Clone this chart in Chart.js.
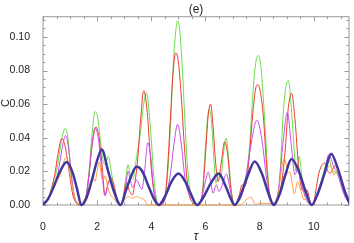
<!DOCTYPE html>
<html>
<head>
<meta charset="utf-8">
<script src="https://cdn.jsdelivr.net/npm/chart.js@4"></script>
<style>
  html, body { margin: 0; padding: 0; background: #fff; }
  #box { width: 354px; height: 243px; }
</style>
</head>
<body>
<div id="box"><canvas id="myChart" width="354" height="243"></canvas></div>
<script>
// tau / C values, one group per arch
const greenT = [0, 0.2, 0.4, 0.5, 0.6, 0.7, 0.82, 0.92, 1.0, 1.1, 1.2, 1.35, 1.5, 1.6, 1.7, 1.8, 1.92, 2.02, 2.12, 2.22, 2.3, 2.41, 2.5, 2.6, 2.7, 2.85,
  2.95, 3.05, 3.14, 3.22, 3.3, 3.47, 3.6, 3.7, 3.82, 3.92, 4.02, 4.1, 4.2, 4.3,
  4.5, 4.6, 4.7, 4.8, 4.9, 4.97, 5.05, 5.15, 5.25, 5.35, 5.45, 5.6, 5.7,
  5.8, 5.9, 6.0, 6.13, 6.22, 6.3, 6.39, 6.49, 6.56, 6.66, 6.76, 6.86, 6.96, 7.08,
  7.15, 7.3, 7.45, 7.55, 7.65, 7.75, 7.85, 7.96, 8.05, 8.15, 8.27, 8.35, 8.45, 8.55,
  8.65, 8.75, 8.87, 8.97, 9.06, 9.18, 9.27, 9.34, 9.4, 9.46, 9.55, 9.68, 9.8, 9.92,
  10.1, 10.25, 10.4, 10.55, 10.65, 10.75, 10.85, 10.95, 11.1, 11.3];
const greenC = [0, 0.004, 0.015, 0.02, 0.03, 0.04, 0.0456, 0.04, 0.025, 0.01, 0.002, 0, 0.001, 0.006, 0.02, 0.04, 0.0555, 0.052, 0.038, 0.026, 0.024, 0.029, 0.022, 0.012, 0.005, 0,
  0.004, 0.015, 0.024, 0.018, 0.015, 0.03, 0.043, 0.058, 0.0668, 0.055, 0.034, 0.015, 0.003, 0,
  0.004, 0.018, 0.045, 0.08, 0.103, 0.1097, 0.104, 0.08, 0.047, 0.02, 0.007, 0.001, 0,
  0.001, 0.01, 0.035, 0.057, 0.05, 0.03, 0.013, 0.019, 0.016, 0.03, 0.0398, 0.027, 0.008, 0,
  0.001, 0.004, 0.015, 0.022, 0.04, 0.066, 0.084, 0.0889, 0.082, 0.06, 0.027, 0.009, 0.002, 0,
  0.003, 0.018, 0.054, 0.07, 0.074, 0.056, 0.034, 0.02, 0.022, 0.029, 0.018, 0.0054, 0.001, 0,
  0.005, 0.013, 0.022, 0.028, 0.022, 0.02, 0.019, 0.016, 0.008, 0.001];

const redT = [0, 0.2, 0.35, 0.45, 0.55, 0.7, 0.8, 0.9, 1.0, 1.1, 1.25, 1.4,
  1.5, 1.6, 1.7, 1.8, 1.96, 2.07, 2.17, 2.29, 2.41, 2.52, 2.62, 2.72, 2.85,
  2.95, 3.07, 3.2, 3.3, 3.4, 3.5, 3.6, 3.72, 3.85, 3.95, 4.05, 4.15, 4.3,
  4.5, 4.6, 4.7, 4.8, 4.9, 5.0, 5.1, 5.2, 5.3, 5.4, 5.55, 5.7,
  5.8, 5.9, 6.0, 6.1, 6.19, 6.28, 6.37, 6.47, 6.58, 6.71, 6.82, 6.92, 7.02, 7.1,
  7.15, 7.25, 7.35, 7.45, 7.55, 7.65, 7.75, 7.85, 7.94, 8.05, 8.15, 8.25, 8.35, 8.45, 8.55,
  8.65, 8.8, 8.93, 9.06, 9.18, 9.31, 9.43, 9.55, 9.65, 9.75, 9.85, 9.95,
  10.05, 10.15, 10.25, 10.4, 10.52, 10.62, 10.72, 10.85, 10.95, 11.05, 11.15, 11.3];
const redC = [0, 0.004, 0.012, 0.0195, 0.03, 0.0396, 0.036, 0.027, 0.016, 0.006, 0.001, 0,
  0.001, 0.006, 0.018, 0.034, 0.0465, 0.04, 0.026, 0.006, 0.0134, 0.016, 0.012, 0.005, 0,
  0.002, 0.013, 0.008, 0.006, 0.014, 0.028, 0.05, 0.068, 0.055, 0.032, 0.013, 0.004, 0,
  0.004, 0.022, 0.05, 0.078, 0.0905, 0.085, 0.066, 0.04, 0.018, 0.006, 0.001, 0,
  0.001, 0.008, 0.03, 0.053, 0.06, 0.047, 0.026, 0.014, 0.025, 0.0376, 0.03, 0.012, 0.002, 0,
  0.001, 0.006, 0.012, 0.011, 0.018, 0.035, 0.055, 0.069, 0.0716, 0.065, 0.05, 0.025, 0.008, 0.002, 0,
  0.004, 0.012, 0.03, 0.058, 0.0664, 0.05, 0.024, 0.0097, 0.008, 0.009, 0.003, 0,
  0.006, 0.016, 0.022, 0.025, 0.02, 0.019, 0.022, 0.0235, 0.019, 0.012, 0.006, 0.001];

const magT = [0, 0.2, 0.35, 0.5, 0.62, 0.72, 0.84, 0.95, 1.05, 1.15, 1.3, 1.42,
  1.5, 1.6, 1.7, 1.8, 1.92, 2.05, 2.17, 2.29, 2.4, 2.5, 2.62, 2.72, 2.85,
  2.95, 3.05, 3.14, 3.22, 3.32, 3.45, 3.55, 3.65, 3.75, 3.87, 3.97, 4.07, 4.17, 4.3,
  4.5, 4.7, 4.85, 4.97, 5.1, 5.25, 5.4, 5.55, 5.7,
  5.85, 6.0, 6.1, 6.2, 6.28, 6.4, 6.5, 6.6, 6.78, 6.9, 7.05,
  7.2, 7.35, 7.47, 7.66, 7.9, 8.09, 8.27, 8.43, 8.55,
  8.7, 8.87, 9.02, 9.18, 9.3, 9.43, 9.55, 9.68, 9.9,
  10.0, 10.2, 10.35, 10.45, 10.55, 10.65, 10.75, 10.85, 11.0, 11.15, 11.3];
const magC = [0, 0.004, 0.01, 0.015, 0.025, 0.035, 0.0414, 0.033, 0.018, 0.006, 0.001, 0,
  0.001, 0.006, 0.018, 0.034, 0.046, 0.039, 0.02, 0.0054, 0.012, 0.014, 0.008, 0.004, 0,
  0.002, 0.01, 0.02, 0.015, 0.0104, 0.015, 0.012, 0.0094, 0.02, 0.037, 0.03, 0.012, 0.003, 0,
  0.003, 0.018, 0.038, 0.048, 0.037, 0.015, 0.006, 0.003, 0,
  0.004, 0.014, 0.0195, 0.013, 0.007, 0.012, 0.008, 0.011, 0.0185, 0.01, 0,
  0.002, 0.006, 0.0143, 0.034, 0.0505, 0.038, 0.0143, 0.003, 0,
  0.01, 0.038, 0.055, 0.034, 0.018, 0.022, 0.0128, 0.005, 0,
  0.001, 0.008, 0.016, 0.024, 0.03, 0.027, 0.022, 0.02, 0.012, 0.005, 0.001];

const orangeT = [0, 0.2, 0.35, 0.45, 0.55, 0.65, 0.75, 0.86, 0.95, 1.0,
  1.1, 1.2, 1.3, 1.45, 1.55, 1.65, 1.75, 1.85, 1.92, 2.0,
  2.08, 2.15, 2.22, 2.3, 2.4, 2.5, 2.6, 2.75, 2.85, 3.0,
  3.15, 3.3, 3.45, 3.6, 3.75, 3.85, 6.45, 6.52, 6.58, 7.3,
  7.4, 7.5, 7.63, 7.72, 7.8, 7.9, 8.1, 8.3, 8.5, 8.6,
  8.7, 8.8, 8.9, 8.97, 9.03, 9.12, 9.2, 9.28, 9.4, 9.52,
  9.64, 9.77, 9.85, 9.95, 10.07, 10.26, 10.38, 10.5, 10.62, 10.75,
  10.87, 11.05, 11.3];
const orangeC = [0, 0.004, 0.011, 0.014, 0.015, 0.019, 0.025, 0.0284, 0.024, 0.018,
  0.01, 0.003, 0.001, 0.002, 0.004, 0.008, 0.012, 0.016, 0.014, 0.02,
  0.0255, 0.018, 0.0145, 0.0175, 0.01, 0.006, 0.004, 0.001, 0, 0.003,
  0.005, 0.004, 0.005, 0.004, 0.003, 0, 0, 0.001, 0, 0,
  0.001, 0.003, 0.0046, 0.004, 0.001, 0.0005, 0.001, 0.001, 0.001, 0.003,
  0.008, 0.02, 0.028, 0.025, 0.0187, 0.0197, 0.013, 0.0068, 0.0137, 0.0088,
  0.003, 0.0058, 0.001, 0, 0.003, 0.0128, 0.0187, 0.0217, 0.0237, 0.018,
  0.021, 0.0128, 0.003];

const blueT = [0, 0.2, 0.4, 0.6, 0.88, 1.1, 1.25, 1.42,
  1.6, 1.8, 2.0, 2.17, 2.4, 2.6, 2.87,
  3.05, 3.25, 3.45, 3.65, 3.9, 4.1, 4.27,
  4.5, 4.75, 5.0, 5.25, 5.45, 5.69,
  5.9, 6.2, 6.49, 6.75, 6.9, 7.08,
  7.3, 7.55, 7.82, 8.1, 8.3, 8.52,
  8.75, 8.95, 9.18, 9.45, 9.7, 9.92,
  10.15, 10.4, 10.64, 10.9, 11.15, 11.35];
const blueC = [0, 0.004, 0.011, 0.019, 0.0256, 0.019, 0.01, 0,
  0.004, 0.0145, 0.0265, 0.033, 0.0205, 0.009, 0,
  0.008, 0.017, 0.0227, 0.0205, 0.011, 0.0035, 0,
  0.005, 0.014, 0.0187, 0.014, 0.007, 0,
  0.004, 0.013, 0.0187, 0.011, 0.005, 0,
  0.006, 0.017, 0.0259, 0.018, 0.008, 0,
  0.007, 0.018, 0.0273, 0.02, 0.008, 0,
  0.007, 0.019, 0.0305, 0.021, 0.008, 0];

const xTicks = [0, 2, 4, 6, 8, 10];
const yTicks = [0, 0.02, 0.04, 0.06, 0.08, 0.10];

function pts(t, c) {
  return t.map((v, i) => ({ x: v, y: c[i] }));
}

function line(t, c, color, width, order) {
  return {
    data: pts(t, c),
    borderColor: color,
    borderWidth: width,
    pointRadius: 0,
    fill: false,
    cubicInterpolationMode: 'monotone',
    clip: { left: 0, top: 0, right: 0, bottom: 2 },
    order: order
  };
}

const fontFam = "'Liberation Sans', Arial, sans-serif";

// frame all round with inward major / minor ticks (Mathematica look)
const frameTicks = {
  id: 'frameTicks',
  beforeDatasetsDraw(chart) {
    const { ctx, chartArea: a, scales: { x, y } } = chart;
    ctx.save();
    ctx.strokeStyle = '#9a9a9a';
    ctx.lineWidth = 1;
    ctx.strokeRect(a.left, a.top, a.right - a.left, a.bottom - a.top);
    ctx.beginPath();
    for (let i = 0; i * 0.5 <= x.max; i++) {
      const px = Math.round(x.getPixelForValue(i * 0.5)) + 0.5;
      const len = i % 4 === 0 ? 4.5 : 2.5;
      ctx.moveTo(px, a.bottom); ctx.lineTo(px, a.bottom - len);
      ctx.moveTo(px, a.top); ctx.lineTo(px, a.top + len);
    }
    for (let j = 0; j * 0.005 <= y.max; j++) {
      const py = Math.round(y.getPixelForValue(j * 0.005)) + 0.5;
      const len = j % 4 === 0 ? 4.5 : 2.5;
      ctx.moveTo(a.left, py); ctx.lineTo(a.left + len, py);
      ctx.moveTo(a.right, py); ctx.lineTo(a.right - len, py);
    }
    ctx.stroke();
    ctx.restore();
  },
  // y axis name, a little above the middle like the original
  afterDraw(chart) {
    const { ctx } = chart;
    ctx.save();
    ctx.fillStyle = '#222';
    ctx.font = '11px ' + fontFam;
    ctx.textAlign = 'center';
    ctx.textBaseline = 'middle';
    ctx.translate(5.5, 103);
    ctx.rotate(-Math.PI / 2);
    ctx.fillText('C', 0, 0);
    ctx.restore();
  }
};

new Chart(document.getElementById('myChart'), {
  type: 'line',
  data: {
    datasets: [
      line(blueT, blueC, '#3f389e', 2.5, 0),
      line(orangeT, orangeC, '#ff9c40', 1, 1),
      line(magT, magC, '#c94ee6', 1, 2),
      line(redT, redC, '#ee3b36', 1, 3),
      line(greenT, greenC, '#6ade4a', 1, 4)
    ]
  },
  options: {
    responsive: false,
    animation: false,
    events: [],
    layout: { padding: { left: 0, right: 5, top: 0, bottom: 0 } },
    plugins: {
      legend: { display: false },
      tooltip: { enabled: false },
      title: {
        display: true,
        text: '(e)',
        fullSize: false,
        color: '#222',
        font: { family: fontFam, size: 12, weight: 'normal', lineHeight: 1.2 },
        padding: { top: 2, bottom: 0.3 }
      }
    },
    scales: {
      x: {
        type: 'linear',
        min: 0,
        max: 11.3,
        grid: { display: false },
        border: { display: false },
        afterFit: s => { s.height = 38; },
        afterBuildTicks: s => { s.ticks = xTicks.map(v => ({ value: v })); },
        ticks: {
          padding: 8,
          color: '#222',
          font: { family: fontFam, size: 10.5 },
          callback: v => String(v)
        },
        title: {
          display: true,
          text: 'τ',
          color: '#222',
          font: { family: fontFam, size: 12, style: 'italic', lineHeight: 1 },
          padding: { top: 0, bottom: 0.5 }
        }
      },
      y: {
        type: 'linear',
        min: 0,
        max: 0.112,
        grid: { display: false },
        border: { display: false },
        afterFit: s => { s.width = 43; },
        afterBuildTicks: s => { s.ticks = yTicks.map(v => ({ value: v })); },
        ticks: {
          padding: 5,
          color: '#222',
          font: { family: fontFam, size: 10.5 },
          callback: v => Number(v).toFixed(2)
        }
      }
    }
  },
  plugins: [frameTicks]
});
</script>
</body>
</html>
